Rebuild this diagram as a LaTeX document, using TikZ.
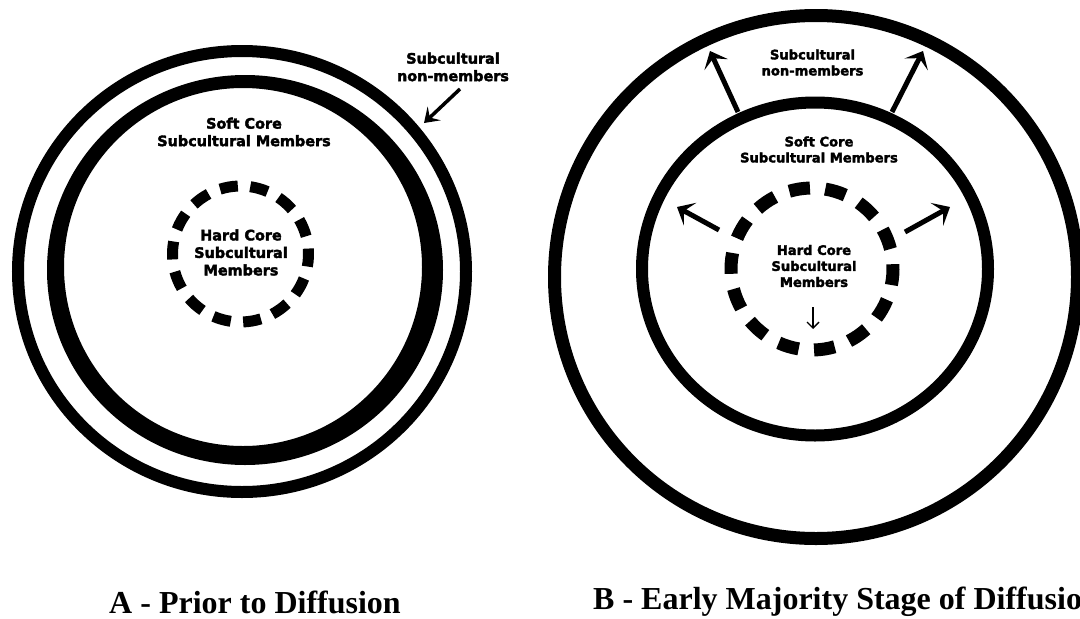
\documentclass[tikz,border=0pt]{standalone}
\usepackage{fontspec}
\newfontfamily\lblfont{DejaVu Sans Bold}[FakeBold=2.5]
\newfontfamily\capfont{Liberation Serif}
\usetikzlibrary{arrows.meta}
\begin{document}
\begin{tikzpicture}[x=1pt,y=-1pt,
  lblL/.style={font=\lblfont\fontsize{14.4}{17.5}\selectfont, align=center, inner sep=0pt},
  lblR/.style={font=\lblfont\fontsize{13.1}{16}\selectfont, align=center, inner sep=0pt},
  bigarrow/.style={line width=5pt, -{Stealth[length=15pt,width=26pt,inset=7pt]}},
  smallarrow/.style={line width=3.5pt, -{Stealth[length=14pt,width=19pt,inset=6pt]}},
  tinyarrow/.style={line width=1.4pt, -{Straight Barb[length=6pt,width=12pt]}},
  capt/.style={font=\capfont\bfseries\fontsize{32}{36}\selectfont, inner sep=0pt}
]
\useasboundingbox[fill=white] (0,0) rectangle (1080,619);

% ---------------- A: prior to diffusion ----------------
\draw[line width=12pt] (242,271.5) ellipse [x radius=224, y radius=220.5];
\fill[even odd rule] (245,270) ellipse [x radius=198, y radius=195]
                     (243,267) ellipse [x radius=179, y radius=179];
\coordinate (hcA) at (240.5,254);
\foreach \k in {0,...,13}{
  \pgfmathsetmacro\s{\k*360/14+3-7.6}
  \pgfmathsetmacro\e{\k*360/14+3+7.6}
  \draw[line width=11pt] (hcA) ++(\s:68) arc[start angle=\s, end angle=\e, radius=68];
}
\node[lblL] (nmA) at (453,67) {Subcultural\\non-members};
\node[lblL] (scA) at (244,132) {Soft Core\\Subcultural Members};
\node[lblL] (hdA) at (241,252.5) {Hard Core\\Subcultural\\Members};
\coordinate (aAs) at (460,89);
\coordinate (aAe) at (424,123);
\draw[smallarrow] (aAs) -- (aAe);

% ---------------- B: early majority ----------------
\draw[line width=13pt] (816,277) circle [radius=261.5];
\draw[line width=12pt] (815,269) ellipse [x radius=173, y radius=166.5];
\coordinate (hcB) at (812,269);
\foreach \k in {0,...,13}{
  \pgfmathsetmacro\s{\k*360/14+4-7.4}
  \pgfmathsetmacro\e{\k*360/14+4+7.4}
  \draw[line width=13pt] (hcB) ++(\s:81) arc[start angle=\s, end angle=\e, radius=81];
}
\node[lblR] (nmB) at (812.5,62.5) {Subcultural\\non-members};
\node[lblR] (scB) at (819,149.5) {Soft Core\\Subcultural Members};
\node[lblR] (hdB) at (814,266) {Hard Core\\Subcultural\\Members};

\coordinate (t1s) at (738,112);  \coordinate (t1e) at (710,51);
\coordinate (t2s) at (892,112);  \coordinate (t2e) at (923,51);
\coordinate (s1s) at (719,230);  \coordinate (s1e) at (677,207);
\coordinate (s2s) at (905,232);  \coordinate (s2e) at (950,207);
\coordinate (dns) at (813,307);  \coordinate (dne) at (813,329);
\draw[bigarrow] (t1s) -- (t1e);
\draw[bigarrow] (t2s) -- (t2e);
\draw[bigarrow] (s1s) -- (s1e);
\draw[bigarrow] (s2s) -- (s2e);
\draw[tinyarrow] (dns) -- (dne);

% ---------------- captions ----------------
\node[capt] (capA) at (255,602) {A - Prior to Diffusion};
\node[capt, anchor=west] (capB) at (593,602) {B - Early Majority Stage of Diffusion};
\end{tikzpicture}
\end{document}
